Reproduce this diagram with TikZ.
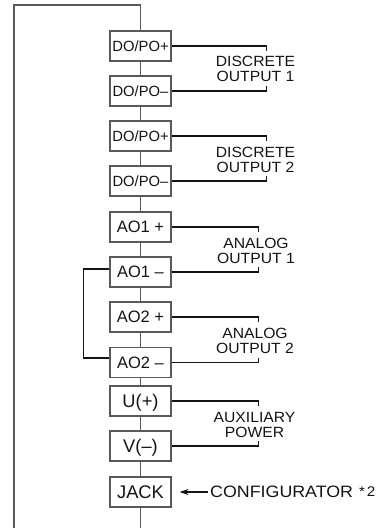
\documentclass[tikz,border=0pt]{standalone}
\usepackage{fontspec}
\setmainfont{Liberation Sans}
\newfontfamily\boxfont{Liberation Sans}
\newfontfamily\labfont[FakeStretch=1.06]{Liberation Sans}
\newfontfamily\conffont[FakeStretch=1.08]{Liberation Sans}
\usetikzlibrary{arrows.meta}
\definecolor{boxgray}{gray}{0.35}
\definecolor{inkc}{gray}{0.08}
\tikzset{
  term/.style={draw=boxgray, line width=1.1pt, fill=white, minimum width=61pt, minimum height=30pt,
    inner sep=0pt, text depth=0pt, text=inkc},
  termA/.style={term, text height=10.6pt, font=\boxfont\fontsize{14.8}{14.8}\selectfont},
  termB/.style={term, text height=11.8pt, font=\boxfont\fontsize{16.5}{16.5}\selectfont},
  termC/.style={term, text height=13.1pt, font=\boxfont\fontsize{18.3}{18.3}\selectfont},
  trunk/.style={draw=boxgray, line width=1.1pt},
  wire/.style={draw=inkc, line width=1.3pt},
  jumper/.style={draw=inkc, line width=1.6pt},
  lab/.style={align=center, inner sep=0pt, text=inkc, font=\labfont\fontsize{14.8}{15}\selectfont},
}
\begin{document}
\begin{tikzpicture}[x=1pt,y=-1pt]
\useasboundingbox (0,0) rectangle (387,528);
% frame corners
\coordinate (tl) at (14,5);
\coordinate (tr) at (140.5,5);
\coordinate (bl) at (14,528);
\coordinate (bb) at (140.5,528);
% terminal boxes
\node[termA] (b1) at (140.5,46) {DO/PO+};
\node[termA] (b2) at (140.5,91) {DO/PO–};
\node[termA] (b3) at (140.5,136) {DO/PO+};
\node[termA] (b4) at (140.5,181) {DO/PO–};
\node[termB] (b5) at (140.5,227) {AO1 +};
\node[termB] (b6) at (140.5,272) {AO1 –};
\node[termB] (b7) at (140.5,317) {AO2 +};
\node[termB] (b8) at (140.5,362.5) {AO2 –};
\node[termC] (b9) at (140.5,401) {U(+)};
\node[termC] (b10) at (140.5,446) {V(–)};
\node[termC] (b11) at (140.5,492) {JACK};
% trunk
\draw[trunk] (bl) -- (tl) -- (tr) -- (b1.north);
\draw[trunk] (b1.south) -- (b2.north);
\draw[trunk] (b2.south) -- (b3.north);
\draw[trunk] (b3.south) -- (b4.north);
\draw[trunk] (b4.south) -- (b5.north);
\draw[trunk] (b5.south) -- (b6.north);
\draw[trunk] (b6.south) -- (b7.north);
\draw[trunk] (b7.south) -- (b8.north);
\draw[trunk] (b8.south) -- (b9.north);
\draw[trunk] (b9.south) -- (b10.north);
\draw[trunk] (b10.south) -- (b11.north);
\draw[trunk] (b11.south) -- (bb);
% right brackets
\draw[wire] (b1.east) -- ++(95,0) -- ++(0,5);
\draw[wire] (b2.east) -- ++(95,0) -- ++(0,-5);
\draw[wire] (b3.east) -- ++(95,0) -- ++(0,5);
\draw[wire] (b4.east) -- ++(95,0) -- ++(0,-5);
\draw[wire] (b5.east) -- ++(87,0) -- ++(0,5);
\draw[wire] (b6.east) -- ++(87,0) -- ++(0,-5);
\draw[wire] (b7.east) -- ++(87,0) -- ++(0,5);
\draw[wire] (b8.east) -- ++(87,0) -- ++(0,-5);
\draw[wire] (b9.east) -- ++(87,0) -- ++(0,5);
\draw[wire] (b10.east) -- ++(87,0) -- ++(0,-5);
% left jumper
\draw[jumper] ([yshift=3pt]b6.west) -- ++(-26,0) |- ([yshift=4.5pt]b8.west);
% labels
\node[lab] (l1) at (255.5,69) {DISCRETE\\OUTPUT 1};
\node[lab] (l2) at (255.5,160) {DISCRETE\\OUTPUT 2};
\node[lab] (l3) at (256,251) {ANALOG\\OUTPUT 1};
\node[lab] (l4) at (255,341) {ANALOG\\OUTPUT 2};
\node[lab] (l5) at (254.5,424.5) {AUXILIARY\\POWER};
% configurator
\node[anchor=west, inner sep=0pt, text=inkc, text height=11.7pt, text depth=0pt,
      font=\conffont\fontsize{16.5}{16.5}\selectfont] (conf) at (210,492)
  {CONFIGURATOR\hspace{6pt}{\fontsize{14}{14}\selectfont\raisebox{1.5pt}{*\kern2pt2}}};
\draw[wire, line width=1.4pt, -{Stealth[length=9pt,width=6pt]}] ([xshift=-2pt]conf.west) -- ([xshift=8pt]b11.east);
\end{tikzpicture}
\end{document}
